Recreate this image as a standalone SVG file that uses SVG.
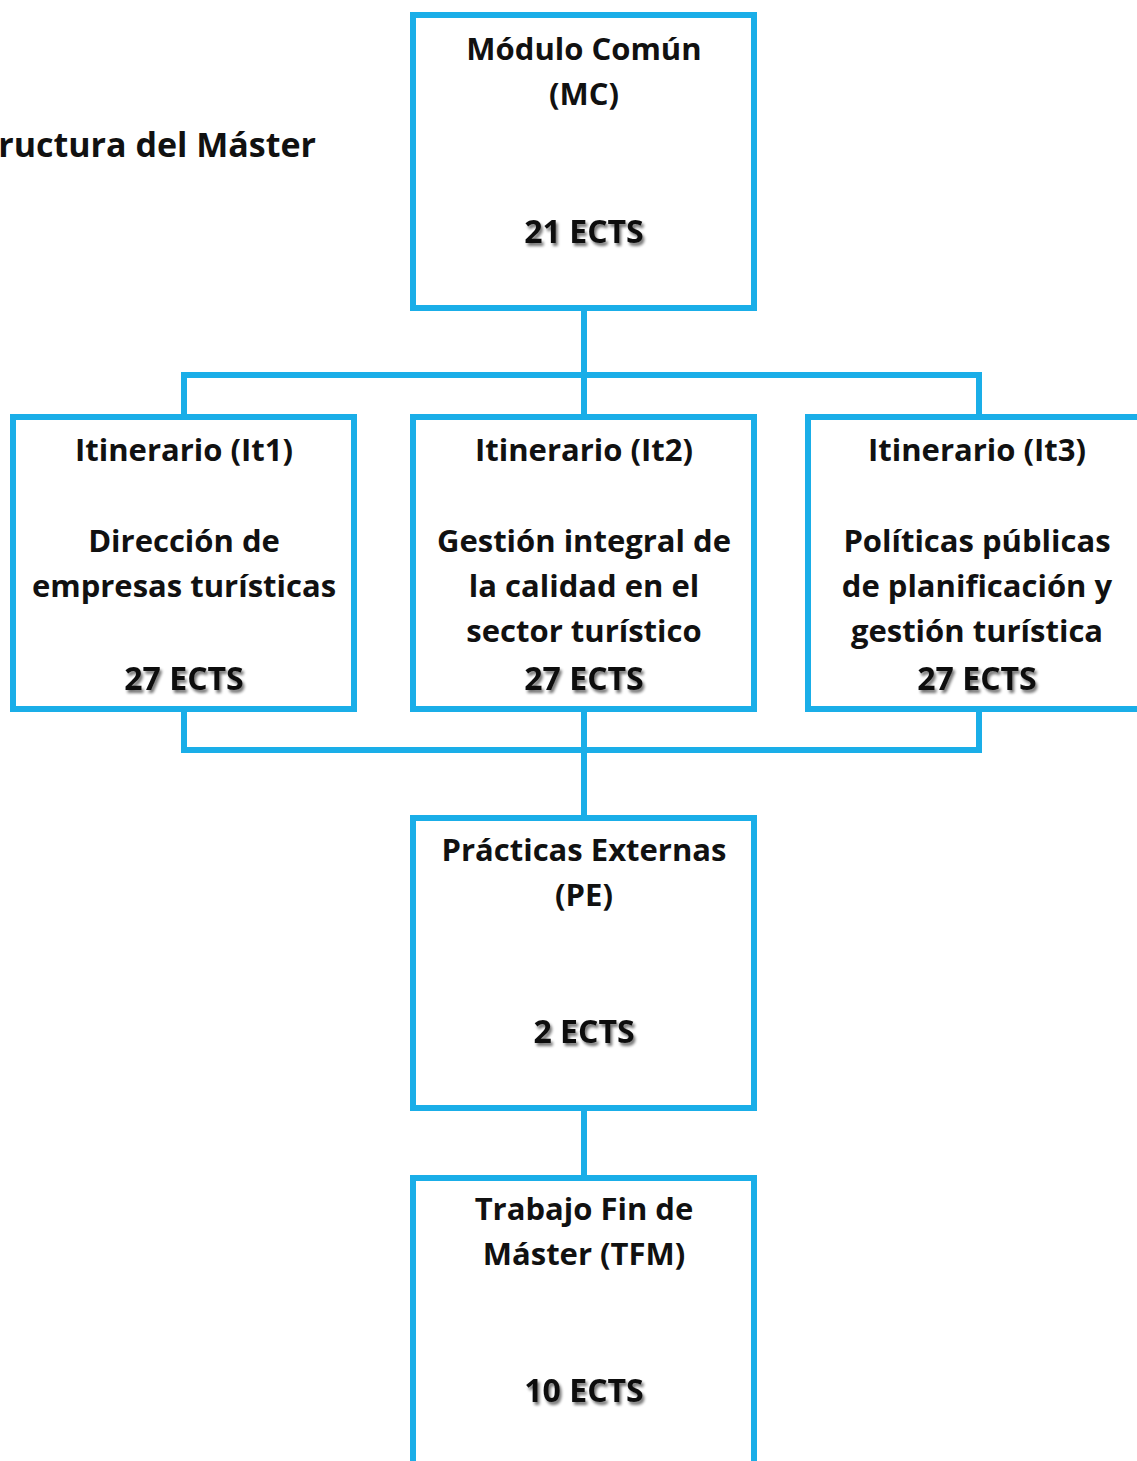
<svg xmlns="http://www.w3.org/2000/svg" width="1137" height="1461" viewBox="0 0 1137 1461">
<defs>
<filter id="sh" x="-10%" y="-30%" width="130%" height="170%">
<feGaussianBlur in="SourceAlpha" stdDeviation="1.5"/>
<feOffset dx="2" dy="2.5" result="b"/>
<feComponentTransfer><feFuncA type="linear" slope="0.55"/></feComponentTransfer>
<feMerge><feMergeNode/><feMergeNode in="SourceGraphic"/></feMerge>
</filter>
</defs>
<style>
.box{fill:#fff;stroke:#1aaee8;stroke-width:6}
.ln{fill:none;stroke:#1aaee8;stroke-width:6}
text{font-family:"Open Sans","Noto Sans",sans-serif;font-weight:bold;font-size:31px;fill:#111;text-anchor:middle}
.e{filter:url(#sh);font-size:32px}
</style>
<rect width="1137" height="1461" fill="#fff"/>
<text x="316" y="157" style="text-anchor:end;font-size:34px">ructura del Máster</text>
<g id="connectors">
<path class="ln" d="M584 311V375M184 414V375H979V414M584 375V414"/>
<path class="ln" d="M184 712V750H979V712M584 712V815"/>
<path class="ln" d="M584 1111V1175"/>
</g>
<g id="mc">
<rect class="box" x="413" y="15" width="341" height="293"/>
<text x="584" y="60">Módulo Común</text>
<text x="584" y="105">(MC)</text>
<text class="e" x="584" y="243">21 ECTS</text>
</g>
<g id="it1">
<rect class="box" x="13" y="417" width="341" height="292"/>
<text x="184" y="461">Itinerario (It1)</text>
<text x="184" y="552">Dirección de</text>
<text x="184" y="597">empresas turísticas</text>
<text class="e" x="184" y="690">27 ECTS</text>
</g>
<g id="it2">
<rect class="box" x="413" y="417" width="341" height="292"/>
<text x="584" y="461">Itinerario (It2)</text>
<text x="584" y="552">Gestión integral de</text>
<text x="584" y="597">la calidad en el</text>
<text x="584" y="642">sector turístico</text>
<text class="e" x="584" y="690">27 ECTS</text>
</g>
<g id="it3">
<rect class="box" x="808" y="417" width="341" height="292"/>
<text x="977" y="461">Itinerario (It3)</text>
<text x="977" y="552">Políticas públicas</text>
<text x="977" y="597">de planificación y</text>
<text x="977" y="642">gestión turística</text>
<text class="e" x="977" y="690">27 ECTS</text>
</g>
<g id="pe">
<rect class="box" x="413" y="818" width="341" height="290"/>
<text x="584" y="861">Prácticas Externas</text>
<text x="584" y="906">(PE)</text>
<text class="e" x="584" y="1043">2 ECTS</text>
</g>
<g id="tfm">
<rect class="box" x="413" y="1178" width="341" height="300"/>
<text x="584" y="1220">Trabajo Fin de</text>
<text x="584" y="1265">Máster (TFM)</text>
<text class="e" x="584" y="1402">10 ECTS</text>
</g>
</svg>
